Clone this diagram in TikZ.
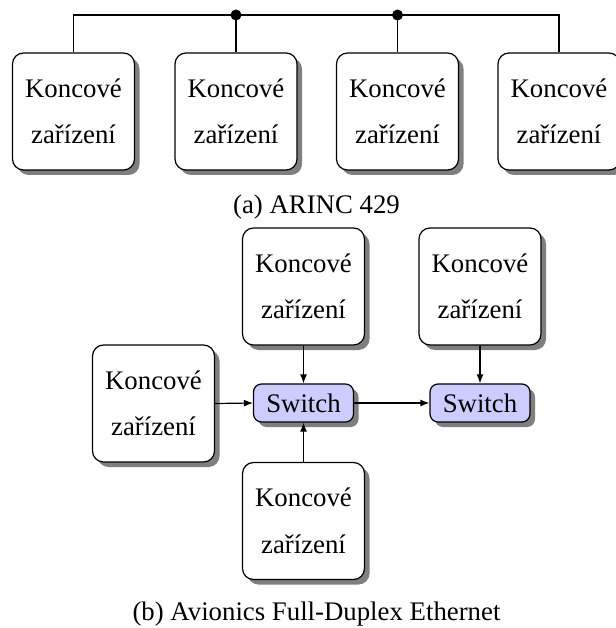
\documentclass[tikz,border=0pt]{standalone}
\usepackage{fontspec}
\setmainfont{Liberation Serif}
\usetikzlibrary{shadows,arrows.meta}
\begin{document}
\begin{tikzpicture}[x=1pt,y=-1pt,
  txt/.style={font=\fontsize{26.8}{46.5}\selectfont},
  device/.style={txt, draw, line width=1.2pt, fill=white, rounded corners=11pt,
    minimum width=122pt, minimum height=117pt, inner sep=0pt, align=center,
    drop shadow={shadow xshift=5pt, shadow yshift=-5pt, fill=black, opacity=0.5}},
  switchbox/.style={txt, draw, line width=1.2pt, fill=blue!20, rounded corners=8pt,
    minimum width=100pt, minimum height=38pt, inner sep=0pt,
    drop shadow={shadow xshift=5pt, shadow yshift=-5pt, fill=black, opacity=0.5}},
  link/.style={line width=1.2pt, -{Latex[length=9pt,width=7pt]}},
  bus/.style={line width=1.2pt},
  junction/.style={circle, fill=black, inner sep=0pt, minimum size=11pt}]
\useasboundingbox (0,0) rectangle (615,628);

% (a) ARINC 429: shared bus with four end devices
\node[device] (a1) at (73.5,111.5) {Koncové\\zařízení};
\node[device] (a2) at (236,111.5) {Koncové\\zařízení};
\node[device] (a3) at (397.5,111.5) {Koncové\\zařízení};
\node[device] (a4) at (559,111.5) {Koncové\\zařízení};
\coordinate (b1) at (a1.north |- 0,15);
\coordinate (b4) at (a4.north |- 0,15);
\node[junction] (j2) at (a2.north |- 0,15) {};
\node[junction] (j3) at (a3.north |- 0,15) {};
\draw[bus] (a1.north) -- (b1) -- (b4) -- (a4.north);
\draw[bus] (a2.north) -- (j2.center);
\draw[bus] (a3.north) -- (j3.center);
\node[txt] (capa) at (316.5,207) {(a) ARINC 429};

% (b) AFDX: end devices connected through switches
\node[device] (t1) at (303.5,286.5) {Koncové\\zařízení};
\node[device] (t2) at (480,286.5) {Koncové\\zařízení};
\node[device] (l1) at (153.5,403.5) {Koncové\\zařízení};
\node[device] (d1) at (303.5,521) {Koncové\\zařízení};
\node[switchbox] (s1) at (303.5,403) {Switch};
\node[switchbox] (s2) at (480,403) {Switch};
\draw[link] (t1.south) -- (s1.north);
\draw[link] (t2.south) -- (s2.north);
\draw[link] (l1.east) -- (s1.west);
\draw[link] (d1.north) -- (s1.south);
\draw[link] (s1.east) -- (s2.west);
\node[txt] (capb) at (316.5,614) {(b) Avionics Full-Duplex Ethernet};
\end{tikzpicture}
\end{document}
